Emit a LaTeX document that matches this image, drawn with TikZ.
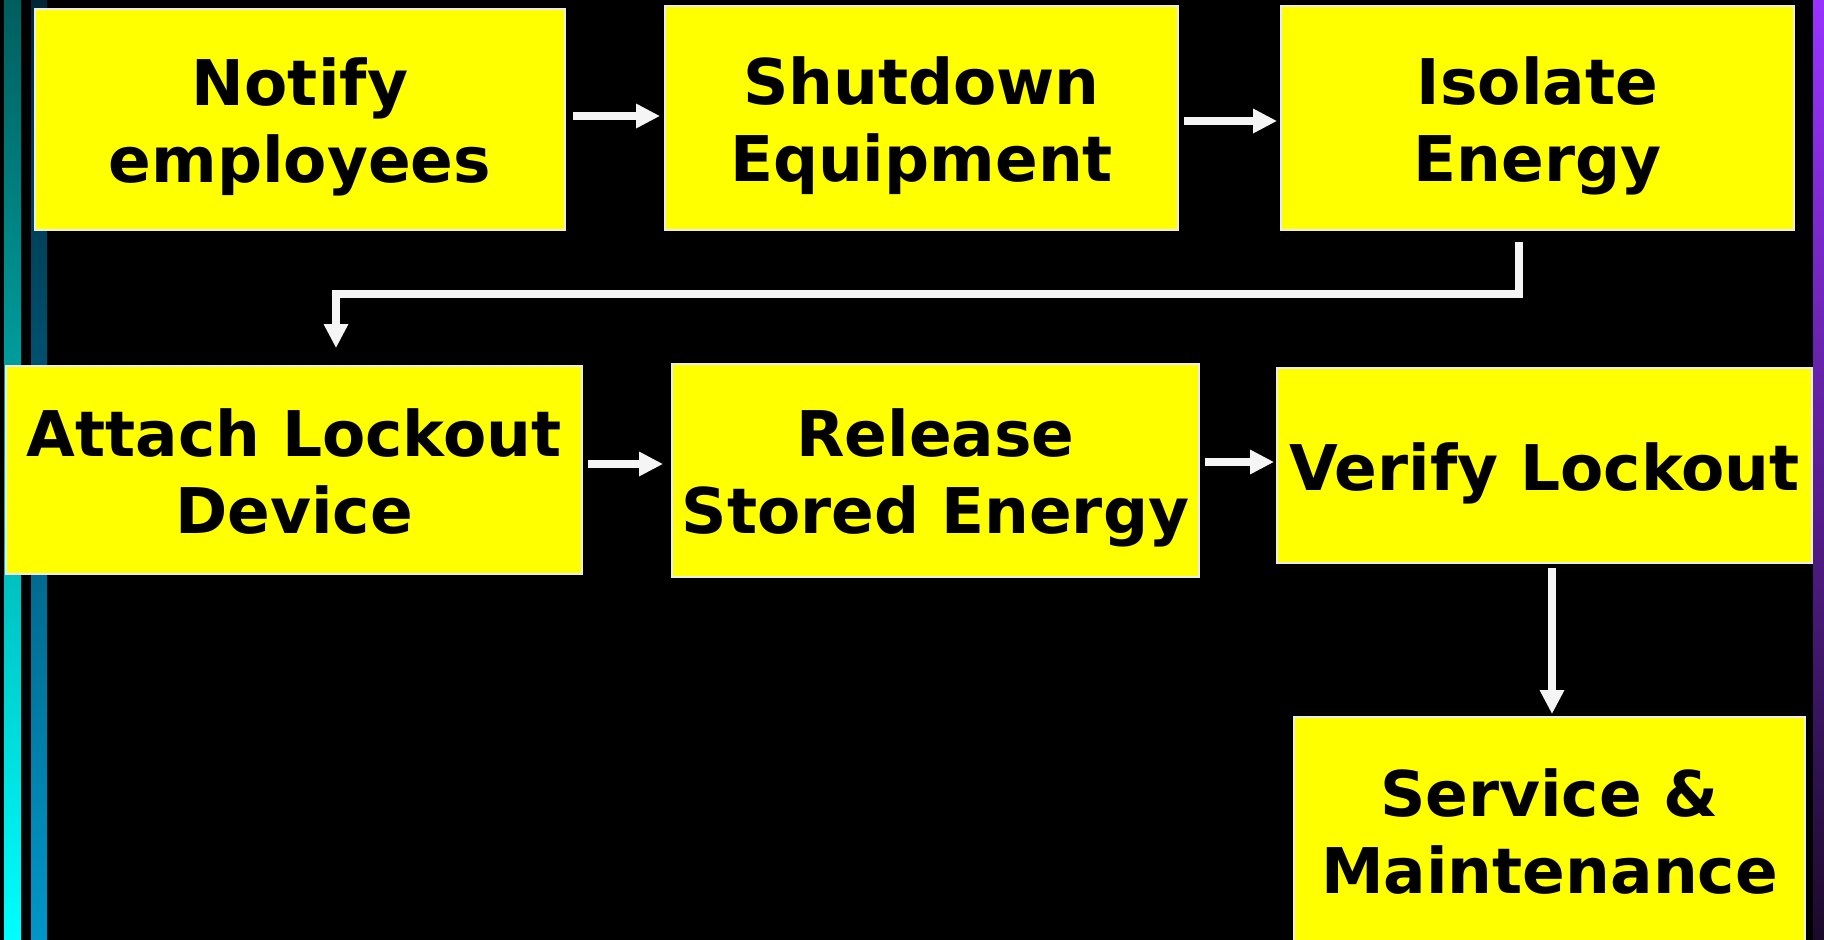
\documentclass[tikz,border=0pt]{standalone}
\usepackage{fontspec}
\setmainfont{DejaVu Sans}
\usetikzlibrary{arrows.meta}
\definecolor{boxyellow}{HTML}{FFFF00}
\definecolor{arrowwhite}{HTML}{F5F5F5}
\definecolor{tealtop}{HTML}{005E5E}
\definecolor{tealbot}{HTML}{00FFFF}
\definecolor{bluetop}{HTML}{002636}
\definecolor{bluebot}{HTML}{0096C8}
\definecolor{purptop}{HTML}{9933FF}
\definecolor{purpbot}{HTML}{1A0A2A}
\tikzset{
  stepbox/.style={draw=white!92!black, line width=1.8pt, fill=boxyellow, inner sep=0pt,
    align=center, font=\fontsize{63}{77}\selectfont\bfseries, text=black,
    text depth=0pt, text height=126.9pt},
  oneline/.style={text height=49.9pt},
  arr/.style={draw=arrowwhite, line width=8pt, -{Triangle[width=23pt,length=24pt]}},
}
\begin{document}
\begin{tikzpicture}[x=1pt,y=-1pt]
\useasboundingbox (0,0) rectangle (1824,940);
\fill[black] (0,0) rectangle (1824,940);
% side stripes
\shade[top color=tealtop, bottom color=tealbot] (4,0) rectangle (21,940);
\shade[top color=bluetop, bottom color=bluebot] (31,0) rectangle (47,940);
\shade[top color=purptop, bottom color=purpbot] (1813,0) rectangle (1824,940);
% boxes
\node[stepbox, minimum width=530pt, minimum height=221pt] (b1) at (300,119.5) {Notify\\employees};
\node[stepbox, minimum width=513pt, minimum height=224pt] (b2) at (921.5,118) {Shutdown\\Equipment};
\node[stepbox, minimum width=513pt, minimum height=224pt] (b3) at (1537.5,118) {Isolate\\Energy};
\node[stepbox, minimum width=576pt, minimum height=208pt] (b4) at (294,470) {Attach Lockout\\Device};
\node[stepbox, minimum width=527pt, minimum height=213pt] (b5) at (935.5,470.5) {Release\\Stored Energy};
\node[stepbox, oneline, minimum width=535pt, minimum height=195pt] (b6) at (1544.5,465.5) {Verify Lockout};
\node[stepbox, minimum width=511pt, minimum height=226pt] (b7) at (1549.5,830) {Service \&\\Maintenance};
% connectors
\coordinate (c1) at (1519,294);
\coordinate (c2) at (336,294);
\draw[arr] ([xshift=7pt,yshift=3.5pt]b1.east) -- ([xshift=-4pt,yshift=3.5pt]b1.east -| b2.west);
\draw[arr] ([xshift=5pt,yshift=-3pt]b2.east) -- ([xshift=-3pt,yshift=-3pt]b2.east -| b3.west);
\draw[arr] ([yshift=-11pt]b3.south -| c1) -- (c1) -- (c2) -- ([yshift=17pt]b4.north -| c2);
\draw[arr] ([xshift=5pt,yshift=6pt]b4.east) -- ([xshift=-8pt,yshift=6pt]b4.east -| b5.west);
\draw[arr] ([xshift=5pt,yshift=8.5pt]b5.east) -- ([xshift=-2pt,yshift=8.5pt]b5.east -| b6.west);
\draw[arr] ([yshift=-4pt]b6.south -| 1552,0) -- ([yshift=2pt]b7.north -| 1552,0);
\end{tikzpicture}
\end{document}
